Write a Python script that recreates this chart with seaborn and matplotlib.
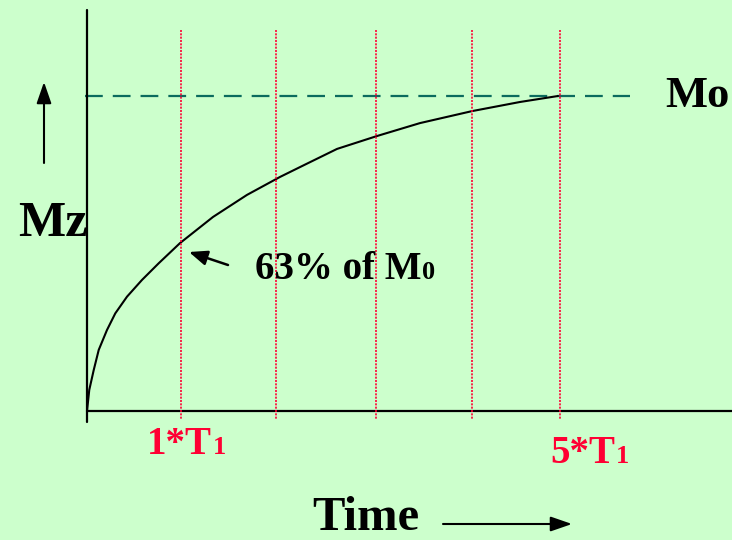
import numpy as np
import matplotlib
matplotlib.use("Agg")
import matplotlib.pyplot as plt
import seaborn as sns

# curve (time in T1 units, Mz as fraction of M0)
t_curve = [0.0, 0.024, 0.071, 0.124, 0.211, 0.299, 0.423, 0.581, 0.758, 0.983,
           1.332, 1.691, 2.04, 2.283, 2.643, 3.066, 3.52, 4.07, 4.577, 4.979]
mz_curve = [0.0, 0.067, 0.130, 0.194, 0.257, 0.310, 0.363, 0.416, 0.469, 0.533,
            0.616, 0.686, 0.743, 0.779, 0.832, 0.873, 0.914, 0.952, 0.981, 1.0]

# red marker lines at multiples of T1
t_marks = [0.99, 2.0, 3.05, 4.07, 5.0]
m0_level = 1.0

W, H = 732, 540
BG = "#ccffcc"
RED = "#ff0033"
SERIF = "Liberation Serif"

sns.set_style("white")
plt.rcParams["font.family"] = [SERIF, "DejaVu Serif"]
plt.rcParams["text.color"] = "black"

fig = plt.figure(figsize=(W / 100, H / 100), dpi=100, facecolor=BG)
ax = fig.add_axes([0, 0, 1, 1])
ax.set_facecolor(BG)

# pixel mapping: x = 87 + 94.6 t, y = 411 - 315 m
x0, sx = 87, 94.6
y0, sy = 411, 315
ax.set_xlim(-x0 / sx, (W - x0) / sx)
ax.set_ylim((y0 - H) / sy, y0 / sy)
ax.axis("off")


def px(x, y):
    return x / W, 1 - y / H


# axes lines
ax.plot([0, 0], [-0.035, 1.273], color="black", lw=1.6, zorder=3)
ax.plot([0, (W - x0) / sx], [0, 0], color="black", lw=1.6, zorder=3)

# M0 dashed level
ax.plot([-0.02, 5.74], [m0_level, m0_level], color="#0b6b5e", lw=1.6,
        dashes=(8, 4.5), zorder=2)

# recovery curve
sns.lineplot(x=t_curve, y=mz_curve, sort=False, color="black", lw=1.5,
             ax=ax, zorder=4)

# vertical dotted lines
for t in t_marks:
    ax.plot([t, t], [1.21, -0.03], color=RED, lw=1.2, ls=(0, (1.2, 0.8)),
            zorder=5)

renderer = fig.canvas.get_renderer()


def sub_text(x, y, main, sub, size, color="black"):
    tx = fig.text(*px(x, y), main, fontsize=size, fontweight="bold",
                  color=color, va="baseline", ha="left", zorder=1)
    bb = tx.get_window_extent(renderer)
    fig.text(bb.x1 / W + 0.001, 1 - y / H, sub, fontsize=size * 0.68,
             fontweight="bold", color=color, va="baseline", ha="left")


fig.text(*px(665, 107), "Mo", fontsize=32, fontweight="bold", va="baseline",
         color="black")
fig.text(*px(18, 236), "Mz", fontsize=36, fontweight="bold", va="baseline",
         color="black")
fig.text(*px(312, 530), "Time", fontsize=35, fontweight="bold", va="baseline",
         color="black")
sub_text(255, 279, "63% of M", "0", 28)
sub_text(147, 454, "1*T", "1", 28, RED)
sub_text(550, 463, "5*T", "1", 28, RED)

# arrows
big_head = "-|>,head_length=1.3,head_width=0.45"
ax.annotate("", xy=px(44, 82), xytext=px(44, 163), xycoords="figure fraction",
            arrowprops=dict(arrowstyle=big_head, color="black", lw=1.5,
                            shrinkA=0, shrinkB=0))
ax.annotate("", xy=px(572, 524), xytext=px(443, 524), xycoords="figure fraction",
            arrowprops=dict(arrowstyle=big_head, color="black", lw=1.5,
                            shrinkA=0, shrinkB=0))
ax.annotate("", xy=px(189, 252), xytext=px(228, 265), xycoords="figure fraction",
            arrowprops=dict(arrowstyle="-|>,head_length=1.1,head_width=0.45",
                            color="black", lw=1.8, shrinkA=0, shrinkB=0))

fig.savefig("out.png", dpi=100, facecolor=BG)
